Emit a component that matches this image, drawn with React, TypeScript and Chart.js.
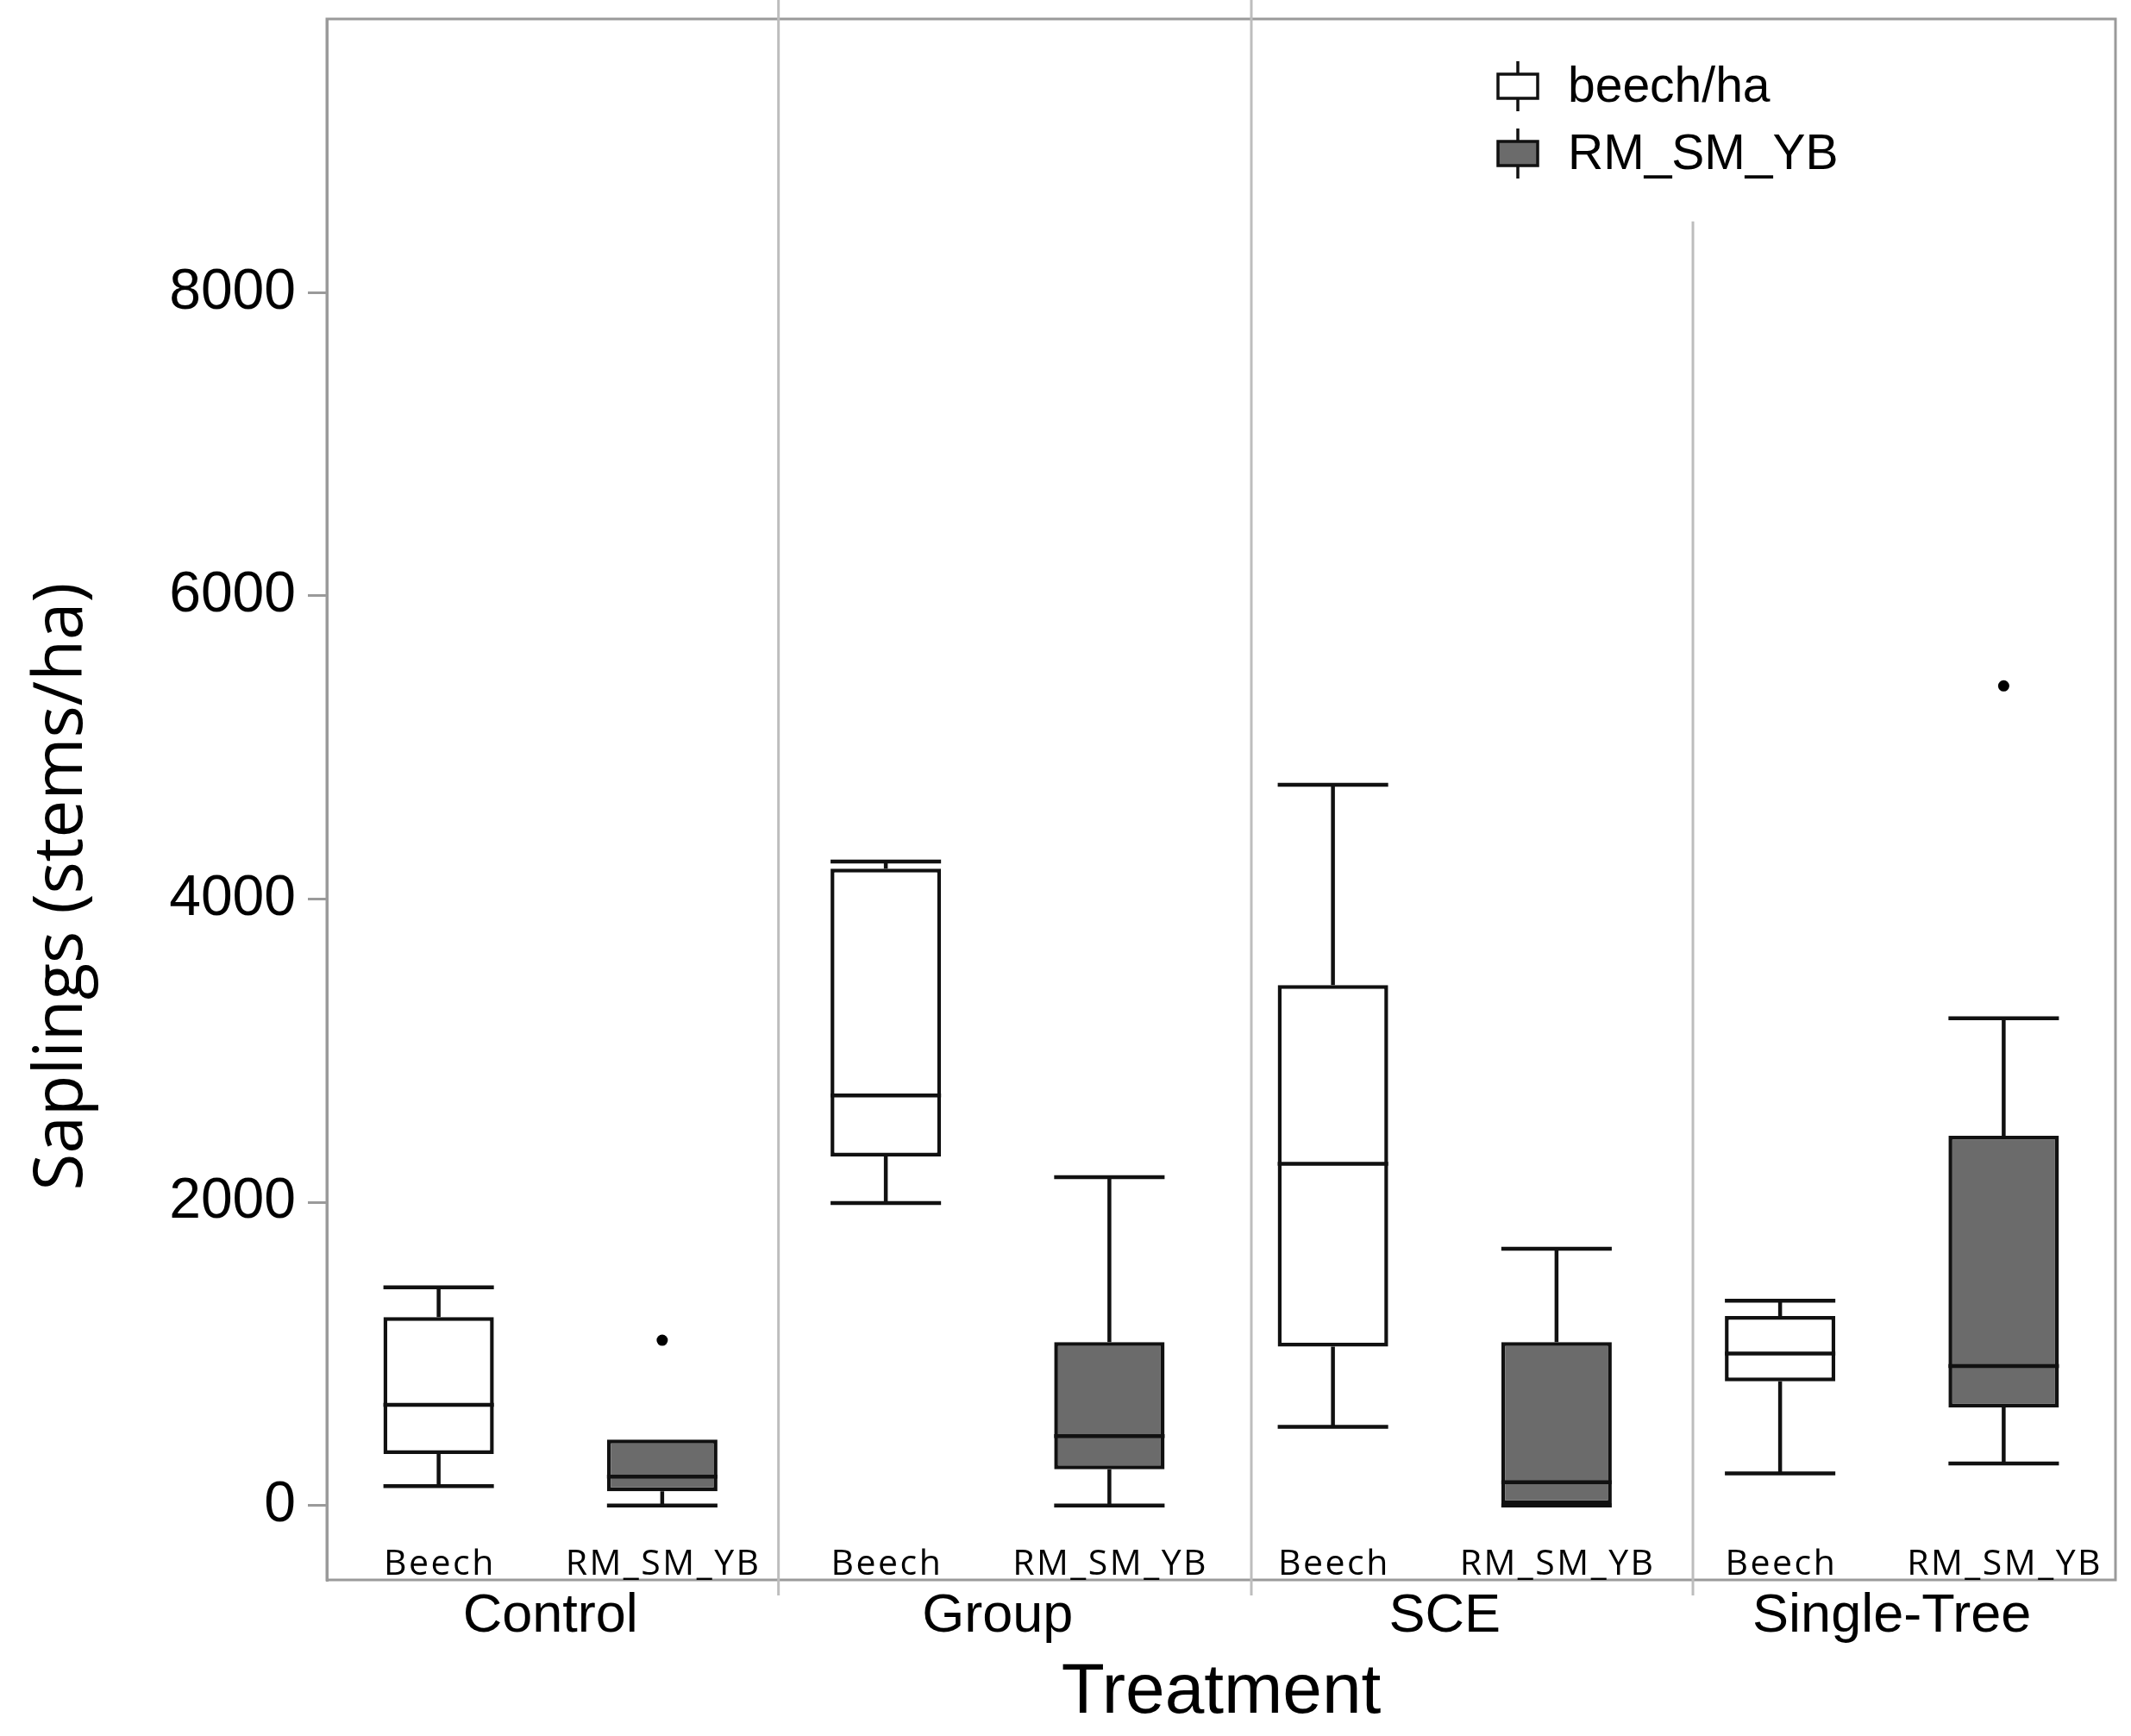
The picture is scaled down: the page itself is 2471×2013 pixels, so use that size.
import React, { useEffect, useRef } from 'react';
import { Chart, registerables } from 'chart.js';

Chart.register(...registerables);

const W = 2471;
const H = 2013;

// ---------- data ----------
const treatments = ['Control', 'Group', 'SCE', 'Single-Tree'];
const species = ['Beech', 'RM_SM_YB'];
const seriesNames = ['beech/ha', 'RM_SM_YB'];
const subLabels = treatments.flatMap(() => species);

const beechLow = [127, 1995, 519, 212];
const beechQ1 = [340, 2302, 1048, 819];
const beechMedian = [664, 2704, 2253, 1002];
const beechQ3 = [1242, 4200, 3432, 1250];
const beechHigh = [1439, 4248, 4754, 1351];

const rmLow = [0, 0, 0, 277];
const rmQ1 = [93, 238, 0, 646];
const rmMedian = [190, 457, 153, 920];
const rmQ3 = [435, 1078, 1077, 2439];
const rmHigh = [435, 2166, 1694, 3213];
const rmOutliers: (number | null)[] = [1090, null, null, 5406];

const yTicks = [0, 2000, 4000, 6000, 8000];
// group separators, in category-index units of the 8-slot axis
const dividerPositions = [1.52, 3.635, 5.61];
const dividerTopValues: (number | null)[] = [null, null, 8470];

// ---------- styles ----------
const FRAME = '#9a9a9a';
const DIVIDER = '#bdbdbd';
const BOX_LINE = '#111111';
const GRAY_FILL = '#6b6b6b';
const LINE_W = 4.5;

const boxSeries = [
  { slot: 0, low: beechLow, q1: beechQ1, med: beechMedian, q3: beechQ3, high: beechHigh, fill: '#ffffff' },
  { slot: 1, low: rmLow, q1: rmQ1, med: rmMedian, q3: rmQ3, high: rmHigh, fill: GRAY_FILL },
];

const spreadBoxes = (s: typeof boxSeries[number]) =>
  subLabels.map((_, i) => (i % 2 === s.slot ? [s.q1[i >> 1], s.q3[i >> 1]] : null));

const outlierData = subLabels.map((_, i) => (i % 2 === 1 ? rmOutliers[i >> 1] : null));

const boxPlugin = {
  id: 'boxExtras',
  beforeDatasetsDraw(chart: any) {
    const { ctx, chartArea } = chart;
    const x = chart.scales.x;
    const y = chart.scales.y;
    ctx.save();
    // frame
    ctx.strokeStyle = FRAME;
    ctx.lineWidth = 3;
    ctx.strokeRect(chartArea.left, chartArea.top, chartArea.right - chartArea.left, chartArea.bottom - chartArea.top);
    // group dividers
    ctx.strokeStyle = DIVIDER;
    ctx.lineWidth = 3;
    dividerPositions.forEach((p, k) => {
      const px = x.getPixelForValue(p);
      const topV = dividerTopValues[k];
      const top = topV == null ? 0 : y.getPixelForValue(topV);
      ctx.beginPath();
      ctx.moveTo(px, top);
      ctx.lineTo(px, chartArea.bottom + 18);
      ctx.stroke();
    });
    ctx.restore();
  },
  afterDatasetsDraw(chart: any) {
    const { ctx, chartArea } = chart;
    const x = chart.scales.x;
    const y = chart.scales.y;
    ctx.save();
    ctx.strokeStyle = BOX_LINE;
    ctx.lineWidth = LINE_W;
    ctx.lineCap = 'butt';
    boxSeries.forEach((s, di) => {
      const meta = chart.getDatasetMeta(di);
      s.q1.forEach((_, g) => {
        const idx = g * 2 + s.slot;
        const el: any = meta.data[idx];
        const cx = x.getPixelForValue(idx);
        const hw = el.width / 2;
        const yq1 = y.getPixelForValue(s.q1[g]);
        const yq3 = y.getPixelForValue(s.q3[g]);
        const ymed = y.getPixelForValue(s.med[g]);
        const ylow = y.getPixelForValue(s.low[g]);
        const yhigh = y.getPixelForValue(s.high[g]);
        ctx.beginPath();
        // median
        ctx.moveTo(cx - hw, ymed);
        ctx.lineTo(cx + hw, ymed);
        // upper whisker
        if (s.high[g] > s.q3[g]) {
          ctx.moveTo(cx, yq3);
          ctx.lineTo(cx, yhigh);
          ctx.moveTo(cx - hw, yhigh);
          ctx.lineTo(cx + hw, yhigh);
        }
        // lower whisker
        if (s.low[g] <= s.q1[g]) {
          ctx.moveTo(cx, yq1);
          ctx.lineTo(cx, ylow);
          ctx.moveTo(cx - hw, ylow);
          ctx.lineTo(cx + hw, ylow);
        }
        ctx.stroke();
      });
    });
    // species labels inside the frame
    ctx.fillStyle = '#000';
    ctx.font = '41px "Open Sans"';
    ctx.textAlign = 'center';
    ctx.textBaseline = 'alphabetic';
    (ctx as any).letterSpacing = '2.5px';
    subLabels.forEach((lab, i) => {
      ctx.fillText(lab, x.getPixelForValue(i) + 1.25, chartArea.bottom - 6);
    });
    (ctx as any).letterSpacing = '0px';
    ctx.restore();
  },
  afterDraw(chart: any) {
    const { ctx } = chart;
    ctx.save();
    // y axis title
    ctx.translate(95, 1028);
    ctx.rotate(-Math.PI / 2);
    ctx.fillStyle = '#000';
    ctx.font = '78px "Open Sans"';
    ctx.textAlign = 'center';
    ctx.textBaseline = 'alphabetic';
    ctx.fillText('Saplings (stems/ha)', 0, 0);
    ctx.restore();

    // legend
    ctx.save();
    const iconX = 1760;
    const rows = [100, 178];
    boxSeries.forEach((s, k) => {
      const cy = rows[k];
      ctx.strokeStyle = BOX_LINE;
      ctx.lineWidth = 3.5;
      ctx.beginPath();
      ctx.moveTo(iconX, cy - 29);
      ctx.lineTo(iconX, cy + 29);
      ctx.stroke();
      ctx.fillStyle = chart.data.datasets[k].backgroundColor;
      ctx.fillRect(iconX - 23, cy - 14, 46, 28);
      ctx.strokeRect(iconX - 23, cy - 14, 46, 28);
      ctx.fillStyle = '#000';
      ctx.font = '57px "Liberation Sans"';
      ctx.textAlign = 'left';
      ctx.textBaseline = 'middle';
      ctx.fillText(chart.data.datasets[k].label, 1818, cy + 2);
    });
    ctx.restore();
  },
};

export default function App() {
  const ref = useRef<HTMLCanvasElement>(null);
  useEffect(() => {
    document.body.style.margin = '0';
    const canvas = ref.current!;
    Chart.defaults.font.family = '"Liberation Sans", Arial, sans-serif';
    Chart.defaults.color = '#000';
    const chart = new Chart(canvas, {
      type: 'bar',
      data: {
        labels: subLabels,
        datasets: [
          {
            type: 'bar',
            label: seriesNames[0],
            data: spreadBoxes(boxSeries[0]) as any,
            backgroundColor: boxSeries[0].fill,
            borderColor: BOX_LINE,
            borderWidth: LINE_W,
            borderSkipped: false,
            grouped: false,
            barPercentage: 0.494,
            categoryPercentage: 1,
            xAxisID: 'x',
            yAxisID: 'y',
          },
          {
            type: 'bar',
            label: seriesNames[1],
            data: spreadBoxes(boxSeries[1]) as any,
            backgroundColor: boxSeries[1].fill,
            borderColor: BOX_LINE,
            borderWidth: LINE_W,
            borderSkipped: false,
            grouped: false,
            barPercentage: 0.494,
            categoryPercentage: 1,
            xAxisID: 'x',
            yAxisID: 'y',
          },
          {
            type: 'line',
            label: 'outliers',
            data: outlierData as any,
            showLine: false,
            pointRadius: 6.5,
            pointBackgroundColor: '#000',
            pointBorderWidth: 0,
            borderColor: '#000',
            xAxisID: 'x',
            yAxisID: 'y',
          },
        ],
      },
      options: {
        animation: false,
        responsive: false,
        devicePixelRatio: 1,
        layout: { padding: { top: 22, right: 18, bottom: 0, left: 0 } },
        plugins: { legend: { display: false }, tooltip: { enabled: false } },
        scales: {
          x: {
            type: 'category',
            display: false,
            offset: true,
          },
          x2: {
            type: 'category',
            position: 'bottom',
            labels: treatments,
            offset: true,
            grid: { display: false, drawTicks: false },
            border: { display: false },
            ticks: { padding: 5, font: { size: 63, lineHeight: 1.2 }, color: '#000', maxRotation: 0, autoSkip: false },
            title: { display: true, text: 'Treatment', font: { size: 82, lineHeight: 1.2 }, color: '#000', padding: { top: 0, bottom: 0 } },
            afterFit: (s: any) => { s.height = 181; s.paddingLeft = 0; s.paddingRight = 0; },
          },
          y: {
            type: 'linear',
            position: 'left',
            min: -491,
            max: 9805,
            afterBuildTicks: (s: any) => { s.ticks = yTicks.map((v) => ({ value: v })); },
            ticks: { padding: 14, font: { size: 66 }, color: '#000', callback: (v: any) => String(v) },
            grid: { drawOnChartArea: false, drawTicks: true, tickLength: 22, color: FRAME, lineWidth: 3 },
            border: { display: true, color: FRAME, width: 3 },
            afterFit: (s: any) => { s.width = 379; s.paddingTop = 0; s.paddingBottom = 0; },
          },
        },
      },
      plugins: [boxPlugin],
    } as any);
    return () => chart.destroy();
  }, []);
  return (
    <div style={{ width: W, height: H }}>
      <canvas ref={ref} width={W} height={H} style={{ display: 'block', width: W, height: H }} />
    </div>
  );
}
